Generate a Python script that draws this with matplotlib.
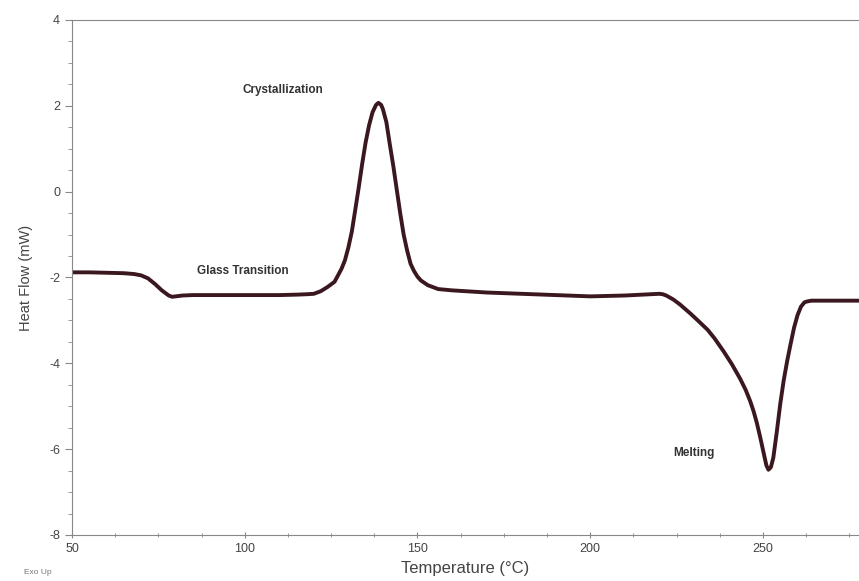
import matplotlib.pyplot as plt
from matplotlib.ticker import MultipleLocator

plt.rcParams['font.family'] = ['Liberation Sans', 'DejaVu Sans']
plt.rcParams['axes.unicode_minus'] = False

# DSC trace
temp = [50, 55, 60, 65, 68, 70, 72, 74, 76, 78, 79, 80, 82, 85, 90, 100, 110, 115, 118,
        120, 122, 124, 126, 127, 128, 129, 130, 131, 132, 133, 134, 135, 136, 137, 138, 138.7,
        139.5, 140, 141, 142, 143, 144, 145, 146, 147, 148, 149, 150, 151, 153, 156, 160,
        170, 180, 190, 200, 210, 215, 220, 221, 222, 224, 226, 229, 231, 234, 236, 238.6,
        241, 243.4, 245, 246.3, 247.3, 248.2, 249.2, 250.2, 251, 251.6, 252.3, 253, 254,
        255, 256, 257, 258, 259, 260, 261, 262, 262.7, 264, 270, 278]
heat_flow = [-1.88, -1.88, -1.89, -1.90, -1.92, -1.95, -2.02, -2.15, -2.30, -2.42, -2.45, -2.44,
             -2.42, -2.41, -2.41, -2.41, -2.41, -2.40, -2.39,
             -2.38, -2.32, -2.22, -2.10, -1.95, -1.80, -1.60, -1.30, -0.93, -0.42, 0.10, 0.65,
             1.15, 1.55, 1.85, 2.02, 2.07, 2.02, 1.92, 1.62, 1.10, 0.60, 0.05, -0.50, -1.00,
             -1.37, -1.68, -1.85, -1.98, -2.07, -2.18, -2.27, -2.30,
             -2.35, -2.38, -2.41, -2.44, -2.42, -2.40, -2.38, -2.39, -2.42, -2.51, -2.63,
             -2.84, -2.99, -3.22, -3.42, -3.72, -4.02, -4.36, -4.62, -4.88, -5.12, -5.38,
             -5.72, -6.09, -6.38, -6.48, -6.42, -6.20, -5.60, -4.95, -4.40, -3.95, -3.55,
             -3.17, -2.88, -2.68, -2.58, -2.56, -2.54, -2.54, -2.54]

events = ['Crystallization', 'Glass Transition', 'Melting']
event_x = [111, 99.5, 230]
event_y = [2.38, -1.86, -6.08]

fig = plt.figure(figsize=(8.59, 5.81), dpi=100)
ax = fig.add_axes([0.0838, 0.0792, 0.9162, 0.8864])

ax.plot(temp, heat_flow, color='#3b1820', lw=2.8, solid_joinstyle='round')

for name, x, y in zip(events, event_x, event_y):
    ax.text(x, y, name, ha='center', va='center', fontsize=8.5, color='#333333',
            fontweight='bold')

ax.set_xlim(50, 277.8)
ax.set_ylim(-8, 4)
ax.xaxis.set_major_locator(MultipleLocator(50))
ax.xaxis.set_minor_locator(MultipleLocator(12.5))
ax.yaxis.set_major_locator(MultipleLocator(2))
ax.yaxis.set_minor_locator(MultipleLocator(0.5))

ax.spines['right'].set_visible(False)
for s in ['left', 'bottom', 'top']:
    ax.spines[s].set_color('#888888')
    ax.spines[s].set_linewidth(0.8)

ax.tick_params(which='both', colors='#888888', labelcolor='#444444',
               labelsize=9, top=False, right=False)
ax.tick_params(axis='y', which='both', direction='out')
ax.tick_params(axis='x', which='both', direction='inout')
ax.tick_params(which='major', length=5)
ax.tick_params(which='minor', length=3)

ax.set_ylabel('Heat Flow (mW)', fontsize=10.5, color='#444444', labelpad=12)
ax.set_xlabel('Temperature (°C)', fontsize=12, color='#444444', labelpad=4)
fig.text(0.044, 0.008, 'Exo Up', fontsize=6, color='#777777', ha='center', va='bottom')

fig.savefig('out.png', dpi=100)
